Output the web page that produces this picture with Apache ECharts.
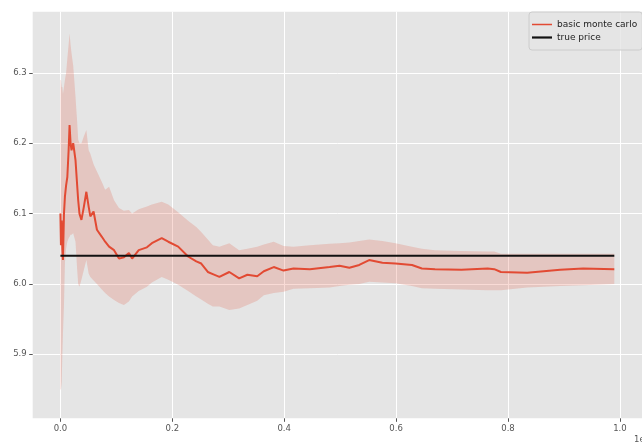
<!DOCTYPE html>
<html>
<head>
<meta charset="utf-8">
<script src="https://cdn.jsdelivr.net/npm/echarts@6/dist/echarts.min.js"></script>
<style>
html,body{margin:0;padding:0;background:#fff;}
#chart{width:642px;height:445px;}
</style>
</head>
<body>
<div id="chart"></div>
<script>
// x positions (in units of 1e6 samples)
var xs = [0.000,0.001,0.0023,0.0035,0.0046,0.0064,0.0081,0.0102,0.0124,0.0147,0.0164,0.0182,0.0199,0.0229,0.0270,0.0300,0.0318,0.0341,0.0376,0.0420,0.0464,0.0505,0.0535,0.0593,0.0653,0.0741,0.0800,0.0870,0.0959,0.1047,0.1135,0.1224,0.1282,0.1400,0.1546,0.1635,0.1811,0.1928,0.2105,0.2282,0.2429,0.2517,0.2635,0.2724,0.2842,0.3019,0.3195,0.3342,0.3518,0.3636,0.3813,0.3989,0.4166,0.4459,0.4812,0.4989,0.5165,0.5342,0.5518,0.5755,0.5989,0.6284,0.6461,0.6696,0.7167,0.7636,0.7754,0.7873,0.8342,0.8932,0.9343,0.99];
// running Monte Carlo estimate
var estimate = [6.10,6.055,6.09,6.05,6.034,6.10,6.124,6.14,6.152,6.19,6.226,6.20,6.19,6.20,6.176,6.14,6.119,6.10,6.091,6.11,6.131,6.11,6.096,6.103,6.077,6.067,6.06,6.053,6.048,6.036,6.038,6.044,6.036,6.048,6.052,6.058,6.065,6.06,6.053,6.039,6.032,6.029,6.017,6.014,6.010,6.017,6.008,6.013,6.011,6.018,6.024,6.019,6.022,6.021,6.024,6.026,6.023,6.027,6.034,6.030,6.029,6.027,6.022,6.021,6.020,6.022,6.021,6.017,6.016,6.020,6.022,6.021];
// confidence band
var upper = [6.29,6.29,6.28,6.28,6.27,6.28,6.29,6.30,6.32,6.34,6.356,6.34,6.328,6.31,6.266,6.23,6.205,6.20,6.20,6.21,6.219,6.19,6.185,6.17,6.16,6.145,6.134,6.138,6.119,6.108,6.104,6.105,6.10,6.106,6.11,6.113,6.117,6.113,6.102,6.09,6.081,6.074,6.063,6.055,6.053,6.058,6.048,6.05,6.053,6.056,6.06,6.054,6.053,6.055,6.057,6.058,6.059,6.061,6.063,6.061,6.058,6.053,6.05,6.048,6.047,6.046,6.046,6.043,6.043,6.043,6.043,6.043];
var lower = [5.85,5.85,5.86,5.90,5.93,5.97,6.03,6.05,6.06,6.065,6.067,6.07,6.07,6.072,6.06,6.02,6.0,5.996,6.006,6.02,6.034,6.015,6.01,6.005,6.0,5.992,5.987,5.982,5.977,5.973,5.970,5.975,5.982,5.99,5.996,6.002,6.01,6.006,5.999,5.99,5.982,5.978,5.972,5.968,5.968,5.963,5.965,5.97,5.976,5.984,5.987,5.989,5.993,5.994,5.995,5.997,5.999,6.0,6.003,6.002,6.001,5.997,5.994,5.993,5.992,5.991,5.991,5.991,5.995,5.997,5.998,6.0];
var truePriceX = [0, 0.99];
var truePrice = 6.04;
var xTicks = [0.0, 0.2, 0.4, 0.6, 0.8, 1.0];
var yTicks = [5.9, 6.0, 6.1, 6.2, 6.3];

var estData = xs.map(function(x,i){return [x, estimate[i]];});
var trueData = truePriceX.map(function(x){return [x, truePrice];});
var bandData = xs.map(function(x,i){return [x, lower[i], upper[i]];});

var chart = echarts.init(document.getElementById('chart'), null, {renderer:'canvas'});
var font = 'DejaVu Sans';
chart.setOption({
  animation:false,
  backgroundColor:'#ffffff',
  textStyle:{fontFamily:font},
  grid:{left:32.7, top:11.7, width:617, height:406.6, show:true, backgroundColor:'#E5E5E5', borderWidth:0},
  legend:{
    left:529, top:12, orient:'vertical', itemGap:4, itemWidth:20, itemHeight:11,
    padding:[8,5,8,3], backgroundColor:'rgba(229,229,229,0.8)', borderColor:'#CCCCCC', borderWidth:1, borderRadius:3,
    textStyle:{fontFamily:font, fontSize:9, color:'#222'},
    data:[{name:'basic monte carlo', icon:'path://M0,0L20,0L20,1.5L0,1.5Z', itemStyle:{color:'#E24A33'}},
          {name:'true price', icon:'path://M0,0L20,0L20,2.2L0,2.2Z', itemStyle:{color:'#111'}}]
  },
  xAxis:{
    type:'value', min:-0.0495, max:1.0395,
    axisLine:{show:false, onZero:false},
    axisTick:{show:true, length:3.5, lineStyle:{color:'#555'}, customValues:xTicks},
    axisLabel:{show:true, customValues:xTicks, color:'#555', fontSize:8.5, margin:6,
      formatter:function(v){return v.toFixed(1);}},
    splitLine:{show:true, lineStyle:{color:'#ffffff', width:1}}
  },
  yAxis:{
    type:'value', min:5.809, max:6.387,
    axisLine:{show:false, onZero:false},
    axisTick:{show:true, length:3.5, lineStyle:{color:'#555'}, customValues:yTicks},
    axisLabel:{show:true, customValues:yTicks, color:'#555', fontSize:8.5, margin:6,
      formatter:function(v){return v.toFixed(1);}},
    splitLine:{show:true, lineStyle:{color:'#ffffff', width:1}}
  },
  graphic:[{type:'text', left:634, top:435, style:{text:'1e6', fill:'#555', font:'8.5px "DejaVu Sans"'}}],
  series:[
    {name:'band', type:'custom', data:bandData, silent:true, z:1,
      encode:{x:0, y:[1,2]},
      renderItem:function(params, api){
        if (params.dataIndex !== 0) return null;
        var pts = [];
        for (var i=0;i<bandData.length;i++) pts.push(api.coord([bandData[i][0], bandData[i][2]]));
        for (var j=bandData.length-1;j>=0;j--) pts.push(api.coord([bandData[j][0], bandData[j][1]]));
        return {type:'polygon', shape:{points:pts}, style:{fill:'rgba(226,74,51,0.2)', stroke:'none'}};
      }
    },
    {name:'basic monte carlo', type:'line', data:estData, symbol:'none', lineStyle:{color:'#E24A33', width:2}, itemStyle:{color:'#E24A33'}, z:3},
    {name:'true price', type:'line', data:trueData, symbol:'none', lineStyle:{color:'#111', width:2}, itemStyle:{color:'#111'}, z:4}
  ]
});
</script>
</body>
</html>
